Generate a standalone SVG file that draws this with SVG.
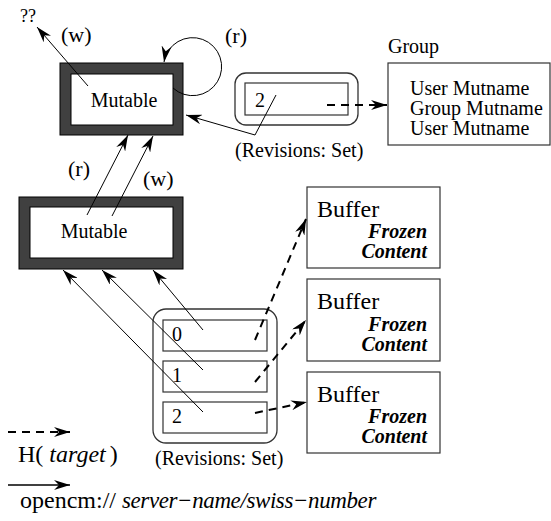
<svg xmlns="http://www.w3.org/2000/svg" width="551" height="521" viewBox="0 0 551 521">
<defs>
<marker id="ah" viewBox="0 0 16 10" refX="16" refY="5" markerWidth="16" markerHeight="10" markerUnits="userSpaceOnUse" orient="auto">
<path d="M0,0 L16,5 L0,10 L5,5 z" fill="#000"/>
</marker>
</defs>
<style>
text{font-family:"Liberation Serif","Times New Roman",serif;fill:#000}
.box{fill:#fff;stroke:#333;stroke-width:1.2}
.thick{fill:#404040;stroke:#000;stroke-width:1}
.inner{fill:#fff;stroke:#000;stroke-width:1}
.set{fill:none;stroke:#333;stroke-width:1.3}
.ln{fill:none;stroke:#000;stroke-width:1;marker-end:url(#ah)}
.ds{fill:none;stroke:#000;stroke-width:2;stroke-dasharray:8 6;marker-end:url(#ah)}
.fz{font-weight:bold;font-style:italic;font-size:20px}
</style>
<rect width="551" height="521" fill="#fff"/>

<g id="mutable-top">
<rect class="thick" x="60" y="63" width="123" height="72"/>
<rect class="inner" x="71" y="74" width="102" height="51"/>
<text x="124" y="107" font-size="20" text-anchor="middle">Mutable</text>
</g>
<g id="mutable-mid">
<rect class="thick" x="19" y="197" width="164" height="72"/>
<rect class="inner" x="30" y="207" width="143" height="51"/>
<text x="94" y="238" font-size="20" text-anchor="middle">Mutable</text>
</g>
<g id="revisions-top">
<rect class="set" x="235" y="73" width="123" height="52" rx="11"/>
<rect class="box" x="245" y="83" width="103" height="32"/>
<text x="255" y="107" font-size="20">2</text>
<text x="235" y="157" font-size="20">(Revisions: Set)</text>
</g>
<g id="group">
<text x="388" y="53" font-size="20">Group</text>
<rect class="box" x="388" y="63" width="162" height="82"/>
<text x="410" y="95" font-size="20">User Mutname</text>
<text x="410" y="115" font-size="20">Group Mutname</text>
<text x="410" y="135" font-size="20">User Mutname</text>
</g>
<g id="revisions-bottom">
<rect class="set" x="153" y="309" width="124" height="134" rx="13"/>
<rect class="box" x="163" y="320" width="104" height="31"/>
<rect class="box" x="163" y="361" width="104" height="31"/>
<rect class="box" x="163" y="402" width="104" height="31"/>
<text x="172" y="341" font-size="20">0</text>
<text x="172" y="382" font-size="20">1</text>
<text x="172" y="423" font-size="20">2</text>
<text x="155" y="465" font-size="20">(Revisions: Set)</text>
</g>
<g id="buffer-1">
<rect class="box" x="307" y="187" width="133" height="81"/>
<text x="317" y="217" font-size="24">Buffer</text>
<text class="fz" x="427" y="238" text-anchor="end">Frozen</text>
<text class="fz" x="427" y="258" text-anchor="end">Content</text>
</g>
<g id="buffer-2">
<rect class="box" x="307" y="279" width="133" height="82"/>
<text x="317" y="309" font-size="24">Buffer</text>
<text class="fz" x="427" y="331" text-anchor="end">Frozen</text>
<text class="fz" x="427" y="351" text-anchor="end">Content</text>
</g>
<g id="buffer-3">
<rect class="box" x="307" y="372" width="133" height="81"/>
<text x="317" y="402" font-size="24">Buffer</text>
<text class="fz" x="427" y="423" text-anchor="end">Frozen</text>
<text class="fz" x="427" y="443" text-anchor="end">Content</text>
</g>
<g id="labels">
<text x="20" y="22" font-size="18">??</text>
<text x="61" y="42" font-size="22">(w)</text>
<text x="225" y="43" font-size="22">(r)</text>
<text x="68" y="176" font-size="22">(r)</text>
<text x="143" y="186" font-size="22">(w)</text>
</g>
<g id="connectors">
<path class="ln" d="M88,86 L37,27"/>
<path class="ln" d="M173,88 A29,29 0 1 0 164,62"/>
<path class="ln" d="M276,95 L255,135 L186,115"/>
<path class="ds" d="M327,105 L387,105"/>
<path class="ln" d="M87,215 L128,135"/>
<path class="ln" d="M112,216 L153,136"/>
<path class="ln" d="M203,330 L153,270"/>
<path class="ln" d="M203,370 L102,270"/>
<path class="ln" d="M203,412 L63,270"/>
<path class="ds" d="M255,340 L306,219"/>
<path class="ds" d="M255,382 L306,320"/>
<path class="ds" d="M255,413 L307,402"/>
</g>
<g id="legend">
<path class="ds" d="M8,432 L70,432"/>
<text x="18" y="462" font-size="24">H( <tspan font-style="italic">target</tspan><tspan dx="4">)</tspan></text>
<path class="ln" d="M8,485 L70,485" style="stroke-width:1.5"/>
<text x="20" y="508" font-size="24">opencm:// <tspan font-style="italic" font-size="23" letter-spacing="-0.4">server−name/swiss−number</tspan></text>
</g>
</svg>
